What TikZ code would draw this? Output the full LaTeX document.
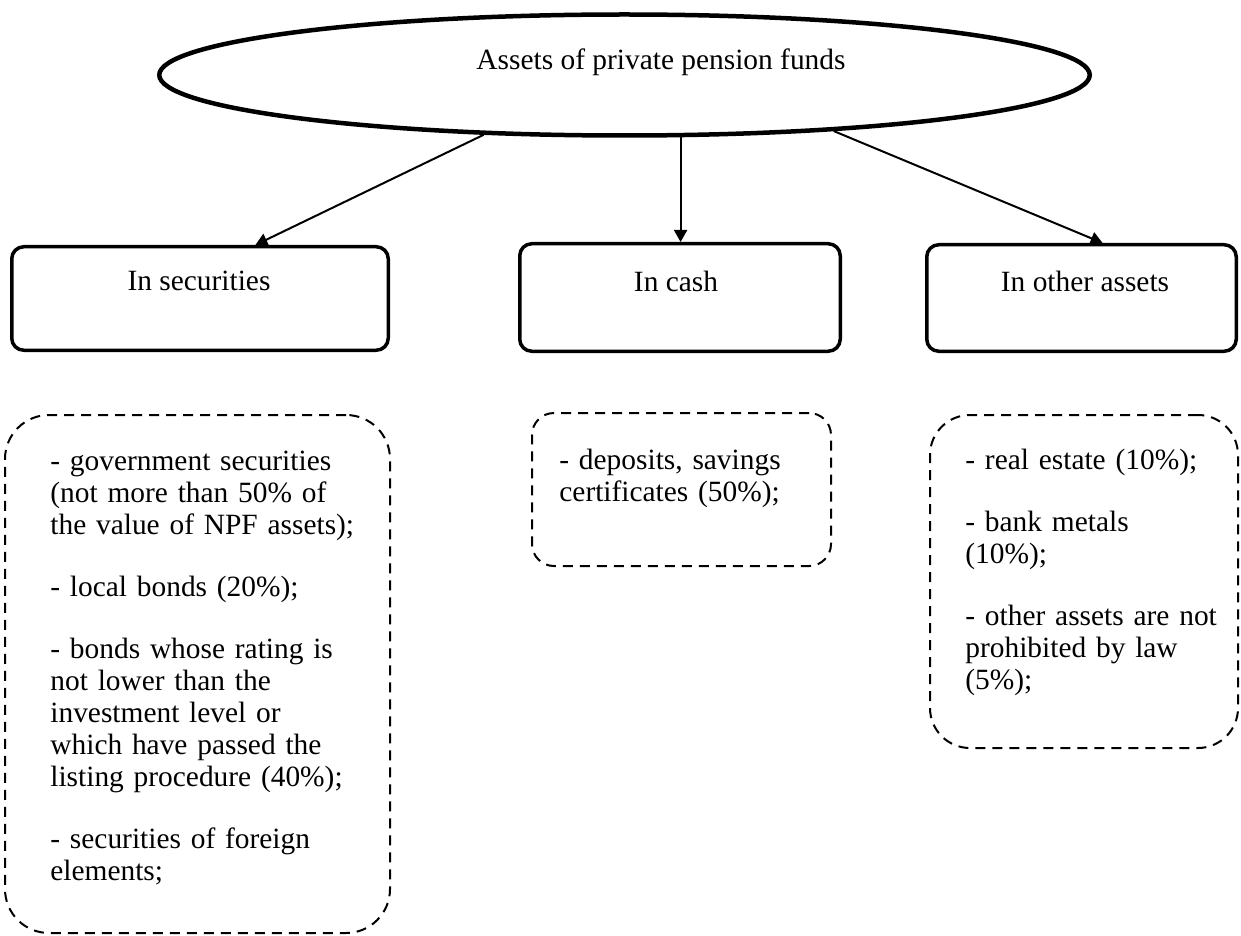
\documentclass[tikz,border=0pt]{standalone}
\usepackage{fontspec}
\setmainfont{Liberation Serif}
\usetikzlibrary{shapes.geometric,arrows.meta}
\begin{document}
\begin{tikzpicture}[x=0.5pt,y=-0.5pt,
  every node/.style={font=\fontsize{14.7}{16}\selectfont},
  rootshape/.style={ellipse, draw, line width=2.25pt, minimum width=465.25pt,
    minimum height=60.5pt, inner sep=0pt},
  catbox/.style={draw, line width=1.75pt, rounded corners=6pt, inner sep=0pt},
  listbox/.style={draw, dash pattern=on 5pt off 3.5pt, line width=1pt, inner sep=0pt},
  caption/.style={anchor=base, inner sep=0pt},
  listtext/.style={anchor=base west, inner sep=0pt, text width=#1, align=left},
  link/.style={line width=1pt, -{Triangle[length=6pt,width=6.5pt]}}
]
\useasboundingbox (0,0) rectangle (1241,936);

% top ellipse and its title
\node[rootshape] (root) at (624.5,75) {};
\node[caption] (roottitle) at (661,70) {Assets of private pension funds};

% the three categories
\node[catbox, minimum width=188.25pt, minimum height=51.75pt] (sec) at (200,298.5) {};
\node[catbox, minimum width=160.25pt, minimum height=53.75pt] (cash) at (680,297.5) {};
\node[catbox, minimum width=154.75pt, minimum height=53.25pt] (other) at (1081.5,298) {};
\node[caption] (sectitle) at (199,290) {In securities};
\node[caption] (cashtitle) at (676,292) {In cash};
\node[caption] (othertitle) at (1085,292) {In other assets};

% arrows from the ellipse to the categories
\draw[link] (root.203) -- (sec.44.7);
\draw[link] (root.312.9) -- (root.312.9 |- cash.north);
\draw[link] (root.345.6) -- (other.69);

% dashed lists under each category
\node[listbox, rounded corners=22pt, minimum width=192.5pt, minimum height=259pt] (seclist) at (197.5,674) {};
\node[listbox, rounded corners=11pt, minimum width=149.5pt, minimum height=76.5pt] (cashlist) at (681.5,489.5) {};
\node[listbox, rounded corners=20pt, minimum width=154pt, minimum height=166.5pt] (otherlist) at (1084,581.5) {};

\node[listtext=175pt] (sectext) at (50,470) {%
  - government securities\\
  (not more than 50\% of\\
  the value of NPF assets);\\[15pt]
  - local bonds (20\%);\\[15pt]
  - bonds whose rating is\\
  not lower than the\\
  investment level or\\
  which have passed the\\
  listing procedure (40\%);\\[15pt]
  - securities of foreign\\
  elements;};
\node[listtext=130pt] (cashtext) at (559,469) {%
  - deposits, savings\\
  certificates (50\%);};
\node[listtext=140pt] (othertext) at (965,469) {%
  - real estate (10\%);\\[15pt]
  - bank metals\\
  (10\%);\\[15pt]
  - other assets are not\\
  prohibited by law\\
  (5\%);};
\end{tikzpicture}
\end{document}
